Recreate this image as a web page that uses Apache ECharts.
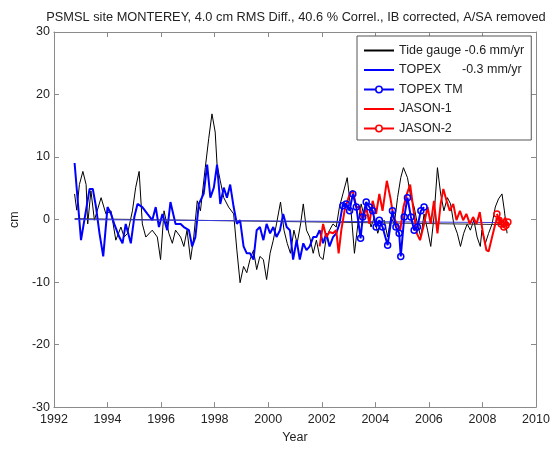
<!DOCTYPE html>
<html>
<head>
<meta charset="utf-8">
<script src="https://cdn.jsdelivr.net/npm/echarts@6/dist/echarts.min.js"></script>
<style>html,body{margin:0;padding:0;background:#fff}#c{width:557px;height:449px}</style>
</head>
<body>
<div id="c"></div>
<script>
// ---- data ----
const xTicks = [1992, 1994, 1996, 1998, 2000, 2002, 2004, 2006, 2008, 2010];
const yTicks = [-30, -20, -10, 0, 10, 20, 30];

const tideYears = [1992.77,1992.85,1992.95,1993.08,1993.2,1993.26,1993.38,1993.51,1993.76,1993.94,1994.13,1994.31,1994.5,1994.62,1994.75,1994.93,1995.05,1995.18,1995.3,1995.43,1995.67,1995.86,1995.98,1996.11,1996.29,1996.42,1996.54,1996.73,1996.85,1996.97,1997.1,1997.22,1997.35,1997.47,1997.65,1997.78,1997.9,1998.02,1998.09,1998.21,1998.34,1998.52,1998.71,1998.83,1998.95,1999.08,1999.2,1999.32,1999.45,1999.57,1999.69,1999.82,1999.94,2000.07,2000.19,2000.31,2000.46,2000.59,2000.71,2000.83,2000.96,2001.08,2001.21,2001.31,2001.43,2001.55,2001.68,2001.8,2001.92,2002.05,2002.17,2002.29,2002.42,2002.54,2002.66,2002.79,2002.95,2003.1,2003.22,2003.35,2003.47,2003.59,2003.72,2003.84,2003.96,2004.09,2004.21,2004.33,2004.46,2004.58,2004.71,2004.83,2004.95,2005.05,2005.2,2005.33,2005.45,2005.57,2005.7,2005.82,2005.95,2006.07,2006.19,2006.32,2006.44,2006.56,2006.69,2006.81,2006.93,2007.06,2007.18,2007.3,2007.43,2007.55,2007.68,2007.8,2007.92,2007.98,2008.11,2008.23,2008.36,2008.48,2008.6,2008.73,2008.82,2008.92];
const tideVals = [4.1,1.5,5.6,7.7,5.6,-0.7,4.6,-0.1,3.5,0.9,1.4,-3.3,-1.2,-2.8,-2.2,1.4,5.1,7.7,-0.7,-2.8,-1.7,-2.8,-6.4,1.4,-2.2,-3.8,-1.7,-2.8,-4.3,-1.7,-6.4,-2.8,3.0,1.4,8.3,13,16.9,14,8.8,6.2,3.5,2.0,0.9,-4.9,-10.1,-7.5,-8.5,-6.4,-4.9,-8.0,-5.9,-6.4,-9.6,-5.4,-3.3,-0.7,2.8,-1.7,-3.8,-5.4,-1.7,-3.8,-0.7,2.5,-1.7,-2.8,-5.4,-3.3,-5.9,-6.4,-2.8,-1.7,-0.7,-1.2,2.0,4.1,6.7,1.0,-5.4,-0.7,2.5,0.4,0.9,-1.2,0.4,-2.2,-0.7,-0.1,-2.8,0.4,-0.7,3.5,6.7,8.3,6.7,3.5,2.0,-0.7,-2.8,0.9,-1.7,-4.3,0.4,8.3,4.1,1.4,3.5,2.5,-0.7,-2.2,-4.3,-2.2,-0.7,-1.7,-0.1,-2.8,-4.3,-1.7,-3.8,-2.2,-0.7,2.0,3.3,4.1,1.4,-2.2];

const topexYears = [1992.77,1993.01,1993.33,1993.45,1993.57,1993.7,1993.84,1994.0,1994.13,1994.25,1994.44,1994.56,1994.68,1994.87,1995.0,1995.12,1995.3,1995.49,1995.67,1995.8,1995.92,1996.05,1996.23,1996.35,1996.54,1996.73,1996.85,1997.04,1997.16,1997.28,1997.41,1997.59,1997.72,1997.84,1997.97,1998.09,1998.21,1998.34,1998.46,1998.58,1998.71,1998.83,1998.95,1999.08,1999.2,1999.32,1999.45,1999.57,1999.69,1999.82,1999.94,2000.07,2000.19,2000.31,2000.44,2000.56,2000.69,2000.81,2000.93,2001.06,2001.18,2001.31,2001.43,2001.55,2001.68,2001.8,2001.92,2002.05,2002.17,2002.29,2002.42,2002.54,2002.66,2002.79];
const topexVals = [9.05,-3.3,4.9,4.9,2.0,-2.2,-5.9,2.0,0.9,-0.7,-2.8,-3.8,-0.7,-3.8,0.4,2.5,2.0,0.9,-0.1,2.0,-1.2,0.9,-1.7,2.8,-0.7,-0.7,-1.2,-1.7,-4.3,-2.8,2.5,4.1,8.8,3.5,5.1,8.8,2.5,5.1,3.5,5.6,2.0,-0.7,-0.1,-4.3,-5.4,-5.4,-6.4,-1.7,-1.2,-3.3,-0.7,-2.2,-1.2,-2.8,-1.7,0.9,-1.2,-1.7,-6.4,-3.3,-6.4,-3.8,-4.9,-4.3,-2.8,-2.8,-1.7,-3.8,-2.2,-4.3,-2.8,-2.2,-0.7,2.5];

const topexTmYears = [2002.79,2002.91,2003.04,2003.16,2003.29,2003.45,2003.53,2003.66,2003.78,2003.9,2004.03,2004.15,2004.27,2004.46,2004.64,2004.77,2004.89,2004.95,2005.08,2005.2,2005.33,2005.45,2005.57,2005.7,2005.82];
const topexTmVals = [2.2,2.5,1.4,4.1,2.0,-3.0,0.4,2.8,2.0,1.4,-1.2,-0.1,-1.2,-4.1,1.4,-1.2,-2.2,-5.9,0.4,3.5,0.4,-1.7,-1.2,1.4,2.0];

const jason1Years = [2001.92,2002.05,2002.17,2002.29,2002.42,2002.54,2002.63,2002.73,2002.85,2003.04,2003.16,2003.29,2003.41,2003.53,2003.66,2003.78,2003.9,2004.03,2004.15,2004.27,2004.43,2004.56,2004.68,2004.81,2004.93,2005.05,2005.18,2005.3,2005.43,2005.55,2005.67,2005.82,2005.95,2006.07,2006.19,2006.32,2006.44,2006.54,2006.66,2006.78,2006.91,2007.03,2007.16,2007.28,2007.4,2007.53,2007.65,2007.78,2007.9,2008.02,2008.15,2008.23,2008.36,2008.48,2008.6,2008.73,2008.85,2008.96];
const jason1Vals = [-4.3,-0.7,-2.8,-2.0,-2.2,-1.7,-5.4,-1.7,1.4,4.1,4.6,2.0,2.0,-0.1,2.0,-0.7,3.0,0.9,4.1,1.4,6.2,3.5,0.4,-0.7,-1.7,2.0,4.1,5.6,1.4,-2.2,-3.3,-0.7,2.0,-0.7,3.0,-2.2,2.5,4.9,3.0,1.4,2.5,-0.1,1.4,-0.1,0.9,-0.7,0.4,-0.7,1.2,-2.2,-4.9,-5.1,-2.8,-0.7,0.5,-0.5,0.3,-1.0];

const jason2Years = [2008.54,2008.62,2008.7,2008.8,2008.88,2008.95];
const jason2Vals = [0.9,-0.1,-0.7,-1.2,-0.9,-0.4];

const tideTrendYears = [1992.77, 2008.96];
const tideTrendVals = [0.15, -0.82];
const topexTrendYears = [1992.77, 2008.96];
const topexTrendVals = [0.0, -0.49];

const titleText = 'PSMSL site MONTEREY, 4.0 cm RMS Diff., 40.6 % Correl., IB corrected, A/SA removed';
const names = ['Tide gauge -0.6 mm/yr', 'TOPEX      -0.3 mm/yr', 'TOPEX TM', 'JASON-1', 'JASON-2'];

// ---- build ----
const zip = (a, b) => a.map((x, i) => [x, b[i]]);
const FONT = 'Liberation Sans, Arial, sans-serif';
const FS = 12.5;
const axisColor = '#8a8a8a';
const txt = '#222';
const BLUE = '#0000ff', RED = '#ff0000';

const chart = echarts.init(document.getElementById('c'), null, {renderer: 'canvas'});

const baseX = {
  type: 'value', min: 1992, max: 2010, interval: 2,
  axisLine: {show: true, onZero: false, lineStyle: {color: axisColor, width: 1}},
  axisTick: {show: true, inside: true, length: 5, lineStyle: {color: axisColor}},
  splitLine: {show: false}
};
const baseY = {
  type: 'value', min: -30, max: 30, interval: 10,
  axisLine: {show: true, onZero: false, lineStyle: {color: axisColor, width: 1}},
  axisTick: {show: true, inside: true, length: 5, lineStyle: {color: axisColor}},
  splitLine: {show: false}
};

const hidden = {opacity: 0};
chart.setOption({
  animation: false,
  backgroundColor: '#fff',
  title: {
    text: titleText, left: 291, top: 6, textAlign: 'center',
    textStyle: {fontFamily: FONT, fontSize: 12.8, fontWeight: 'normal', color: txt}
  },
  grid: {left: 51, right: 21, top: 32, bottom: 36, containLabel: false},
  xAxis: [
    Object.assign({}, baseX, {
      position: 'bottom', name: 'Year', nameLocation: 'middle', nameGap: 23,
      nameTextStyle: {fontFamily: FONT, fontSize: FS, color: txt},
      axisLabel: {fontFamily: FONT, fontSize: FS, color: txt, margin: 6,
        formatter: v => xTicks.includes(v) ? String(v) : ''}
    }),
    Object.assign({}, baseX, {position: 'top', axisLabel: {show: false}})
  ],
  yAxis: [
    Object.assign({}, baseY, {
      position: 'left', name: 'cm', nameLocation: 'middle', nameGap: 28,
      nameTextStyle: {fontFamily: FONT, fontSize: FS, color: txt},
      axisLabel: {fontFamily: FONT, fontSize: FS, color: txt, margin: 4,
        formatter: v => yTicks.includes(v) ? String(v) : ''}
    }),
    Object.assign({}, baseY, {position: 'right', axisLabel: {show: false}})
  ],
  legend: {
    orient: 'vertical', left: 357, top: 36,
    padding: [8, 7, 5, 6], itemGap: 6.5, itemWidth: 30, itemHeight: 8,
    backgroundColor: '#fff', borderColor: '#555', borderWidth: 1,
    textStyle: {fontFamily: FONT, fontSize: FS, color: txt},
    data: [
      {name: names[0], itemStyle: hidden},
      {name: names[1], itemStyle: hidden},
      {name: names[2], itemStyle: {color: '#fff', borderColor: BLUE, borderWidth: 1.5}},
      {name: names[3], itemStyle: hidden},
      {name: names[4], itemStyle: {color: '#fff', borderColor: RED, borderWidth: 1.5}}
    ]
  },
  series: [
    {name: names[0], type: 'line', data: zip(tideYears, tideVals), symbol: 'none',
      lineStyle: {color: '#000', width: 1}, itemStyle: {color: '#000'}, z: 2},
    {type: 'line', data: zip(tideTrendYears, tideTrendVals), symbol: 'none', silent: true,
      lineStyle: {color: '#333', width: 1}, z: 2},
    {name: names[1], type: 'line', data: zip(topexYears, topexVals), symbol: 'none',
      lineStyle: {color: BLUE, width: 2}, itemStyle: {color: BLUE}, z: 3},
    {type: 'line', data: zip(topexTrendYears, topexTrendVals), symbol: 'none', silent: true,
      lineStyle: {color: '#3a3ae0', width: 1}, z: 3},
    {name: names[2], type: 'line', data: zip(topexTmYears, topexTmVals), symbol: 'circle', symbolSize: 6,
      lineStyle: {color: BLUE, width: 2},
      itemStyle: {color: 'rgba(0,0,0,0)', borderColor: BLUE, borderWidth: 1.5}, z: 5},
    {name: names[3], type: 'line', data: zip(jason1Years, jason1Vals), symbol: 'none',
      lineStyle: {color: RED, width: 2}, itemStyle: {color: RED}, z: 4},
    {name: names[4], type: 'line', data: zip(jason2Years, jason2Vals), symbol: 'circle', symbolSize: 6,
      lineStyle: {color: RED, width: 2},
      itemStyle: {color: 'rgba(0,0,0,0)', borderColor: RED, borderWidth: 1.5}, z: 5}
  ]
});
</script>
</body>
</html>
